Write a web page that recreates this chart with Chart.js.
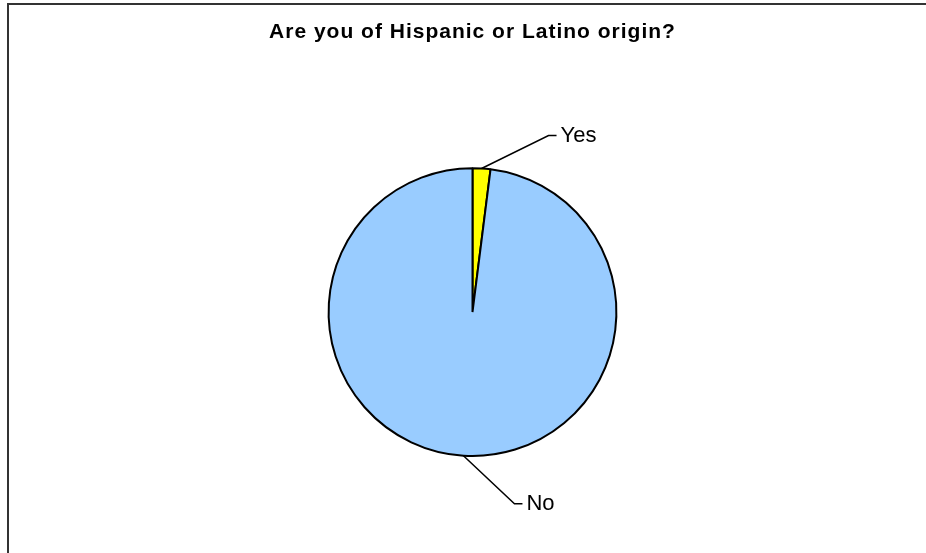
<!DOCTYPE html>
<html>
<head>
<meta charset="utf-8">
<script src="https://cdn.jsdelivr.net/npm/chart.js@4.4.1/dist/chart.umd.min.js"></script>
<style>
  html, body { margin: 0; padding: 0; background: #fff; }
  #wrap { width: 926px; height: 553px; position: relative; }
</style>
</head>
<body>
<div id="wrap"><canvas id="piechart" width="926" height="553"></canvas></div>
<script>
// data (share of answers, %)
const categories = ['Yes', 'No'];
const answerShare = [2.0, 98.0];
const sliceColors = ['#FFFF00', '#99CCFF'];

// frame around the chart (only top and left edges show in the picture)
// also widens the title letters a bit, like the original
const framePlugin = {
  id: 'frame',
  beforeDraw(chart) {
    const ctx = chart.ctx;
    ctx.save();
    ctx.strokeStyle = '#333333';
    ctx.lineWidth = 2;
    ctx.beginPath();
    ctx.moveTo(8, 553);
    ctx.lineTo(8, 4);
    ctx.lineTo(926, 4);
    ctx.stroke();
    ctx.restore();
    ctx.letterSpacing = '1px';
  },
  beforeDatasetsDraw(chart) {
    chart.ctx.letterSpacing = '0px';
  }
};

// labels outside the pie with leader lines
const leaderLabels = {
  id: 'leaderLabels',
  afterDatasetsDraw(chart, args, opts) {
    const ctx = chart.ctx;
    const meta = chart.getDatasetMeta(0);
    ctx.save();
    ctx.letterSpacing = '0px';
    ctx.strokeStyle = '#000';
    ctx.lineWidth = 1.5;
    ctx.fillStyle = '#000';
    ctx.font = opts.font;
    ctx.textBaseline = 'middle';
    ctx.textAlign = 'left';
    meta.data.forEach((arc, i) => {
      const mid = (arc.startAngle + arc.endAngle) / 2;
      const x0 = arc.x + Math.cos(mid) * arc.outerRadius;
      const y0 = arc.y + Math.sin(mid) * arc.outerRadius;
      const off = opts.elbows[i];
      const x1 = x0 + off[0];
      const y1 = y0 + off[1];
      const x2 = x1 + 8;
      ctx.beginPath();
      ctx.moveTo(x0, y0);
      ctx.lineTo(x1, y1);
      ctx.lineTo(x2, y1);
      ctx.stroke();
      ctx.fillText(chart.data.labels[i], x2 + 4, y1);
    });
    ctx.restore();
  }
};

new Chart(document.getElementById('piechart').getContext('2d'), {
  type: 'pie',
  data: {
    labels: categories,
    datasets: [{
      data: answerShare,
      backgroundColor: sliceColors,
      borderColor: '#000000',
      borderWidth: 2
    }]
  },
  options: {
    responsive: false,
    animation: false,
    layout: {
      padding: { top: 0, bottom: 96, left: 19, right: 0 }
    },
    plugins: {
      legend: { display: false },
      tooltip: { enabled: false },
      title: {
        display: true,
        text: 'Are you of Hispanic or Latino origin?',
        color: '#000',
        font: { family: 'Liberation Sans, Arial, sans-serif', size: 21, weight: 'bold' },
        padding: { top: 20, bottom: 122 }
      },
      leaderLabels: {
        font: '22px "Liberation Sans", Arial, sans-serif',
        elbows: [[67, -33], [51, 48]]
      }
    }
  },
  plugins: [framePlugin, leaderLabels]
});
</script>
</body>
</html>
